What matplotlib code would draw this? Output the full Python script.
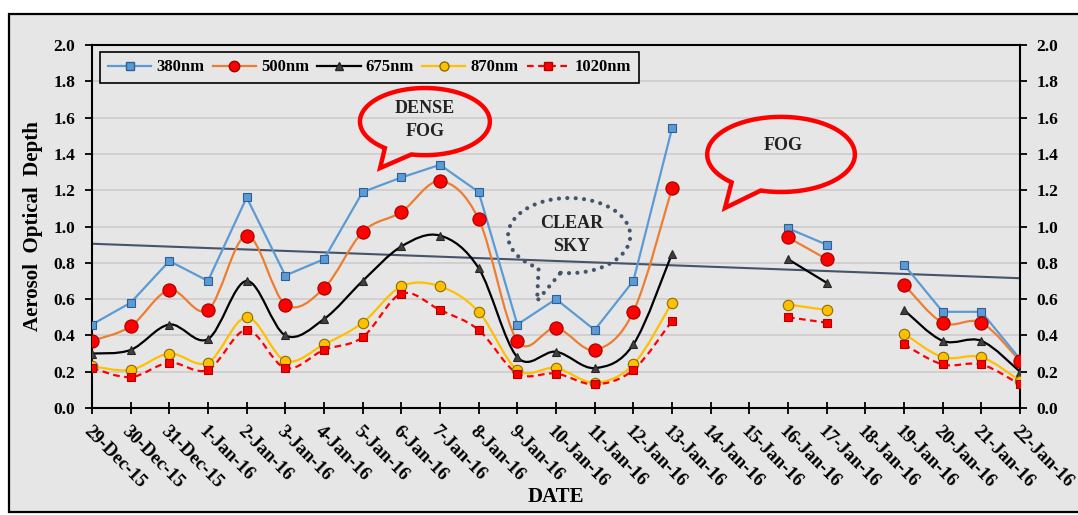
import numpy as np
import matplotlib
matplotlib.use("Agg")
import matplotlib.pyplot as plt
from matplotlib.path import Path
from matplotlib.patches import PathPatch, Polygon, Rectangle
from matplotlib.lines import Line2D

plt.rcParams["font.family"] = ["Liberation Serif", "DejaVu Serif"]
plt.rcParams["font.weight"] = "bold"

# ---- data ----
dates = ["29-Dec-15", "30-Dec-15", "31-Dec-15", "1-Jan-16", "2-Jan-16", "3-Jan-16",
         "4-Jan-16", "5-Jan-16", "6-Jan-16", "7-Jan-16", "8-Jan-16", "9-Jan-16",
         "10-Jan-16", "11-Jan-16", "12-Jan-16", "13-Jan-16", "14-Jan-16", "15-Jan-16",
         "16-Jan-16", "17-Jan-16", "18-Jan-16", "19-Jan-16", "20-Jan-16", "21-Jan-16",
         "22-Jan-16"]
nan = np.nan
aod_380 = [0.46, 0.58, 0.81, 0.70, 1.16, 0.73, 0.82, 1.19, 1.27, 1.34, 1.19, 0.46,
           0.60, 0.43, 0.70, 1.54, nan, nan, 0.99, 0.90, nan, 0.79, 0.53, 0.53, 0.27]
aod_500 = [0.37, 0.45, 0.65, 0.54, 0.95, 0.57, 0.66, 0.97, 1.08, 1.25, 1.04, 0.37,
           0.44, 0.32, 0.53, 1.21, nan, nan, 0.94, 0.82, nan, 0.68, 0.47, 0.47, 0.26]
aod_675 = [0.30, 0.32, 0.46, 0.38, 0.70, 0.40, 0.49, 0.70, 0.89, 0.95, 0.77, 0.28,
           0.31, 0.22, 0.35, 0.85, nan, nan, 0.82, 0.69, nan, 0.54, 0.37, 0.37, 0.20]
aod_870 = [0.23, 0.21, 0.30, 0.25, 0.50, 0.26, 0.35, 0.47, 0.67, 0.67, 0.53, 0.21,
           0.22, 0.14, 0.24, 0.58, nan, nan, 0.57, 0.54, nan, 0.41, 0.28, 0.28, 0.15]
aod_1020 = [0.22, 0.17, 0.25, 0.21, 0.43, 0.22, 0.32, 0.39, 0.63, 0.54, 0.43, 0.19,
            0.19, 0.13, 0.21, 0.48, nan, nan, 0.50, 0.47, nan, 0.35, 0.24, 0.24, 0.13]
trend_ends = [0.905, 0.715]   # linear trend line at first and last date
# =============================

BG = "#e7e6e6"
GRID = "#cfcdcd"


def smooth_path(x, y):
    # Excel-like smoothed line: cubic bezier through each contiguous run of points
    verts, codes = [], []
    x = np.asarray(x, float)
    y = np.asarray(y, float)
    ok = ~np.isnan(y)
    runs, cur = [], []
    for i in range(len(y)):
        if ok[i]:
            cur.append(i)
        elif cur:
            runs.append(cur); cur = []
    if cur:
        runs.append(cur)
    for r in runs:
        p = np.column_stack([x[r], y[r]])
        verts.append(p[0]); codes.append(Path.MOVETO)
        for i in range(len(p) - 1):
            p0 = p[i - 1] if i > 0 else p[i]
            p3 = p[i + 2] if i + 2 < len(p) else p[i + 1]
            c1 = p[i] + (p[i + 1] - p0) / 6.0
            c2 = p[i + 1] - (p3 - p[i]) / 6.0
            verts += [c1, c2, p[i + 1]]
            codes += [Path.CURVE4] * 3
    return Path(verts, codes)


def callout(ax, cx, cy, a, b, t1, t2, tip, **kw):
    th = np.radians(np.linspace(t2, t1 + 360, 120))
    pts = np.column_stack([cx + a * np.cos(th), cy + b * np.sin(th)])
    pts = np.vstack([pts, tip])
    ax.add_patch(Polygon(pts, closed=True, fill=False, **kw))


fig = plt.figure(figsize=(10.78, 5.15), dpi=100)
fig.patch.set_facecolor("white")
fig.patches.append(Rectangle((9 / 1078, 3 / 515), 1.2, (512 - 14) / 515,
                             transform=fig.transFigure, facecolor=BG,
                             edgecolor="black", lw=1.6, zorder=-10))

ax = fig.add_axes([92 / 1078, 1 - 408 / 515, 928 / 1078, 363 / 515])
ax.set_zorder(1)
ax.set_facecolor(BG)
x = np.arange(len(dates))

ax.set_xlim(0, len(dates) - 1)
ax.set_ylim(0, 2.0)
ax.set_yticks(np.arange(0, 2.01, 0.2))
ax.yaxis.set_major_formatter(matplotlib.ticker.FormatStrFormatter("%.1f"))
ax.grid(axis="y", color=GRID, lw=1.3, zorder=0)
ax.set_axisbelow(True)
for s in ax.spines.values():
    s.set_linewidth(1.5)
    s.set_color("black")
ax.tick_params(axis="y", direction="out", length=5, width=1.3, labelsize=12.5,
               right=True, labelright=True, pad=7)
ax.set_xticks(x)
ax.set_xticklabels(dates, rotation=-45, ha="left", va="top",
                   rotation_mode="anchor", fontsize=13.5)
ax.tick_params(axis="x", direction="inout", length=9, width=1.3, pad=6)

# trend line
ax.plot([x[0], x[-1]], trend_ends, color="#44546a", lw=1.5, zorder=2)

# 380 nm, straight segments
ax.plot(x, aod_380, color="#5b9bd5", lw=1.6, marker="s", ms=5.5,
        mfc="#5b9bd5", mec="#2f5f95", mew=0.8, zorder=4)

styles = [
    (aod_500, "#ed7d31", "-", "o", 9.5, "#ff0000", "#a00000"),
    (aod_675, "#000000", "-", "^", 5.5, "#404040", "#262626"),
    (aod_870, "#ffc000", "-", "o", 7.5, "#ffc000", "#8a6d00"),
    (aod_1020, "#ff0000", (0, (3, 2)), "s", 5.5, "#ff0000", "#b00000"),
]
for z, (vals, lc, ls, mk, ms, fc, ec) in enumerate(styles):
    ax.add_patch(PathPatch(smooth_path(x, vals), fill=False, edgecolor=lc,
                           lw=1.6, linestyle=ls, zorder=3 + z * 0.1))
    ax.plot(x, vals, ls="none", marker=mk, ms=ms, mfc=fc, mec=ec, mew=0.8,
            zorder=5 + z * 0.1)

handles = [
    Line2D([], [], color="#5b9bd5", lw=1.6, marker="s", ms=5.5, mfc="#5b9bd5", mec="#2f5f95"),
    Line2D([], [], color="#ed7d31", lw=1.6, marker="o", ms=7.5, mfc="#ff0000", mec="#a00000"),
    Line2D([], [], color="#000000", lw=1.6, marker="^", ms=5.5, mfc="#404040", mec="#262626"),
    Line2D([], [], color="#ffc000", lw=1.6, marker="o", ms=6.5, mfc="#ffc000", mec="#8a6d00"),
    Line2D([], [], color="#ff0000", lw=1.6, ls=(0, (3, 2)), marker="s", ms=5.5, mfc="#ff0000", mec="#b00000"),
]
leg = ax.legend(handles, ["380nm", "500nm", "675nm", "870nm", "1020nm"], ncol=5,
                loc="upper left", bbox_to_anchor=(0.009, 0.981), borderaxespad=0,
                fontsize=12, frameon=True, fancybox=False, facecolor=BG,
                edgecolor="black", framealpha=1, handlelength=2.6,
                handletextpad=0.3, columnspacing=0.5, borderpad=0.45)
leg.get_frame().set_linewidth(1.2)
leg.set_zorder(8)

# callouts
callout(ax, 8.61, 1.578, 1.68, 0.185, 232, 258, (7.45, 1.322),
        edgecolor="#ff0000", lw=3.2, zorder=6)
ax.text(8.61, 1.585, "DENSE\nFOG", ha="center", va="center", fontsize=13,
        linespacing=1.45, color="#222222", zorder=7)
callout(ax, 17.82, 1.397, 1.91, 0.207, 228, 254, (16.37, 1.102),
        edgecolor="#ff0000", lw=3.2, zorder=6)
ax.text(17.87, 1.449, "FOG", ha="center", va="center", fontsize=13,
        color="#222222", zorder=7)
callout(ax, 12.34, 0.950, 1.58, 0.207, 240, 262, (11.51, 0.590),
        edgecolor="#44546a", lw=3.0, linestyle=(0, (0.01, 2.0)),
        capstyle="round", zorder=6)
ax.text(12.41, 0.953, "CLEAR\nSKY", ha="center", va="center", fontsize=13,
        linespacing=1.45, color="#222222", zorder=7)

fig.text(33 / 1078, 1 - 226 / 515, "Aerosol  Optical  Depth", rotation=90,
         ha="center", va="center", fontsize=15)
fig.text(556 / 1078, 1 - 497 / 515, "DATE", ha="center", va="center", fontsize=15)

fig.savefig("out.png", dpi=100, facecolor=fig.get_facecolor())
